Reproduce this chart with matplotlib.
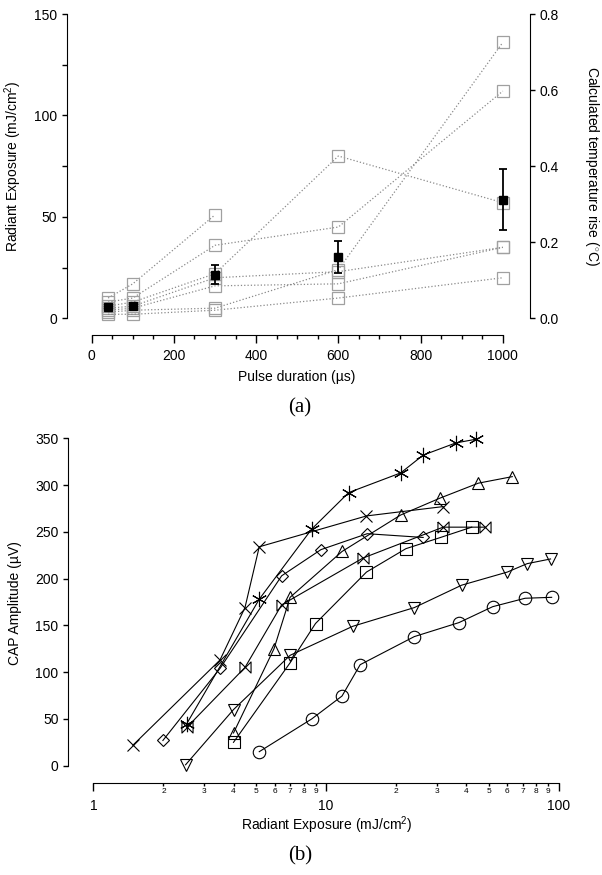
import numpy as np
import matplotlib
matplotlib.use("Agg")
import matplotlib.pyplot as plt
from matplotlib.ticker import MultipleLocator, FixedLocator, FuncFormatter

plt.rcParams['font.family'] = ['Liberation Sans', 'DejaVu Sans']
plt.rcParams['mathtext.fontset'] = 'custom'
plt.rcParams['mathtext.rm'] = 'Liberation Sans'
plt.rcParams['mathtext.it'] = 'Liberation Sans:italic'
plt.rcParams['font.size'] = 10

# --- (a) radiant exposure vs pulse duration ---
pulse = [40, 100, 300, 600, 1000]
exp_1 = [10, 17, 51, np.nan, np.nan]
exp_2 = [8, 10, 36, 45, 112]
exp_3 = [6, 8, 22, 80, 57]
exp_4 = [3, 4, 5, 24, 136]
exp_5 = [5, 6, 20, 23, 35]
exp_6 = [4, 5, 16, 17, 35]
exp_7 = [2, 2, 4, 10, 20]
mean_exp = [5.4, 6.0, 21.6, 30.3, 58.5]
mean_err = [1.0, 1.5, 4.6, 8.0, 15.0]

# --- (b) CAP amplitude vs radiant exposure ---
x_cross = [1.48, 3.5, 4.48, 5.16, 14.9, 31.8]
y_cross = [22, 113, 169, 234, 267, 277]
x_star = [2.52, 5.16, 8.67, 12.5, 20.9, 26.1, 36.0, 44.0]
y_star = [45, 178, 253, 292, 313, 332, 345, 349]
x_diam = [1.99, 3.5, 6.44, 9.5, 15.0, 26.1]
y_diam = [27, 104, 203, 231, 248, 244]
x_bow = [2.52, 4.48, 6.44, 14.4, 31.8, 48.1]
y_bow = [41, 105, 172, 222, 255, 255]
x_up = [4.0, 5.97, 7.0, 11.7, 20.9, 30.8, 45.0, 63.0]
y_up = [35, 125, 180, 229, 268, 286, 302, 309]
x_sq = [4.0, 7.0, 9.0, 14.9, 22.0, 31.0, 42.2]
y_sq = [25, 110, 152, 207, 232, 244, 255]
x_down = [2.49, 4.0, 7.0, 13.0, 23.9, 38.2, 60.0, 73.0, 92.0]
y_down = [1, 60, 118, 149, 169, 193, 207, 216, 221]
x_circ = [5.16, 8.67, 11.7, 14.0, 23.9, 37.2, 51.9, 71.5, 93.0]
y_circ = [15, 50, 74.5, 108, 138, 153, 170, 179, 180]

fig = plt.figure(figsize=(6.02, 8.75), dpi=100)

# top panel
ax1 = fig.add_axes([0.1113, 0.6362, 0.769, 0.3478])
for ys in [exp_1, exp_2, exp_3, exp_4, exp_5, exp_6, exp_7]:
    ax1.plot(pulse, ys, linestyle=':', color='#8a8a8a', lw=0.9, marker='s',
             ms=8, mfc='none', mec='#a0a0a0', mew=0.9, clip_on=False)
ax1.errorbar(pulse, mean_exp, yerr=mean_err, fmt='s', color='black', ms=6,
             elinewidth=1.3, capsize=3, capthick=1.3, clip_on=False, zorder=5)
ax1.set_xlim(-60, 1066)
ax1.set_ylim(0, 150)
ax1.spines['top'].set_visible(False)
ax1.spines['right'].set_visible(False)
ax1.spines['bottom'].set_bounds(0, 1000)
ax1.spines['bottom'].set_position(('outward', 12))
ax1.spines['left'].set_bounds(0, 150)
ax1.xaxis.set_major_locator(MultipleLocator(200))
ax1.xaxis.set_minor_locator(FixedLocator(np.arange(0, 1001, 50)))
ax1.yaxis.set_major_locator(MultipleLocator(50))
ax1.yaxis.set_minor_locator(MultipleLocator(25))
ax1.tick_params(axis='x', which='major', direction='out', length=6, width=1, pad=4)
ax1.tick_params(axis='x', which='minor', direction='out', length=3, width=1)
ax1.tick_params(axis='y', which='both', direction='out', length=3.5, width=1)
ax1.set_xlabel('Pulse duration (µs)')
ax1.xaxis.set_label_coords(0.497, -0.17)
ax1.set_ylabel('Radiant Exposure (mJ/cm$^2$)')
ax1.yaxis.set_label_coords(-0.093, 0.5)

ax2 = ax1.twinx()
ax2.set_ylim(0, 0.8)
for s in ['top', 'left', 'bottom']:
    ax2.spines[s].set_visible(False)
ax2.spines['right'].set_bounds(0, 0.8)
ax2.yaxis.set_major_locator(MultipleLocator(0.2))
ax2.yaxis.set_major_formatter(FuncFormatter(lambda v, p: '%.1f' % v))
ax2.tick_params(axis='y', direction='out', length=3.5, width=1)
ax2.set_ylabel('Calculated temperature rise ($^{\\circ}$C)', rotation=270,
               va='center')
ax2.yaxis.set_label_coords(1.135, 0.5)

fig.text(0.498, 0.5337, '(a)', family='Liberation Serif', fontsize=15,
         ha='center', va='center')

# bottom panel
ax3 = fig.add_axes([0.1135, 0.1249, 0.825, 0.3742])
bowtie = [(-1, 1), (1, -1), (1, 1), (-1, -1), (-1, 1)]
series_b = [
    (x_cross, y_cross, 'x', 9),
    (x_star, y_star, (6, 2, 0), 11),
    (x_diam, y_diam, 'D', 6),
    (x_bow, y_bow, bowtie, 8),
    (x_up, y_up, '^', 9),
    (x_sq, y_sq, 's', 9),
    (x_down, y_down, 'v', 9),
    (x_circ, y_circ, 'o', 9),
]
for xs, ys, mk, sz in series_b:
    ax3.plot(xs, ys, color='black', lw=0.8, marker=mk, ms=sz, mfc='none',
             mec='black', mew=0.8, clip_on=False)
ax3.set_xscale('log')
ax3.set_xlim(0.781, 106.1)
ax3.set_ylim(0, 350)
ax3.spines['top'].set_visible(False)
ax3.spines['right'].set_visible(False)
ax3.spines['bottom'].set_bounds(1, 100)
ax3.spines['bottom'].set_position(('outward', 12.7))
ax3.spines['left'].set_bounds(0, 350)
ax3.yaxis.set_major_locator(MultipleLocator(50))
ax3.xaxis.set_major_locator(FixedLocator([1, 10, 100]))
ax3.xaxis.set_major_formatter(FuncFormatter(lambda v, p: '%d' % v))
minor_x = [m * d for d in [1, 10] for m in range(2, 10)]
ax3.xaxis.set_minor_locator(FixedLocator(minor_x))
ax3.xaxis.set_minor_formatter(FuncFormatter(lambda v, p: '%d' % round(v / 10 ** np.floor(np.log10(v) + 1e-9))))
ax3.tick_params(axis='x', which='major', direction='out', length=6, width=1, pad=5)
ax3.tick_params(axis='x', which='minor', direction='out', length=2.5, width=1,
                pad=1, labelsize=6)
ax3.tick_params(axis='y', direction='out', length=3.5, width=1)
ax3.set_xlabel('Radiant Exposure (mJ/cm$^2$)')
ax3.xaxis.set_label_coords(0.52, -0.15)
ax3.set_ylabel('CAP Amplitude (µV)')
ax3.yaxis.set_label_coords(-0.093, 0.498)

fig.text(0.498, 0.0217, '(b)', family='Liberation Serif', fontsize=15,
         ha='center', va='center')

fig.savefig('out.png', dpi=100)
